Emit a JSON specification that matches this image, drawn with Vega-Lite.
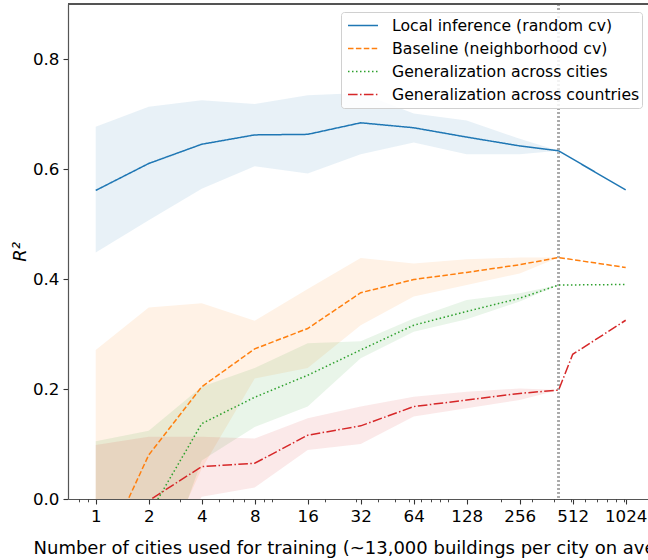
{
  "$schema": "https://vega.github.io/schema/vega-lite/v6.json",
  "width": 580,
  "height": 495,
  "autosize": {"type": "none"},
  "padding": {"left": 68, "top": 4, "right": 0, "bottom": 61},
  "config": {
    "view": {"stroke": null},
    "font": "DejaVu Sans",
    "axis": {
      "grid": false,
      "domainColor": "#555555",
      "domainWidth": 1.2,
      "tickColor": "#333333",
      "tickWidth": 1.1,
      "labelColor": "#000000",
      "labelFontSize": 16.7,
      "labelFont": "DejaVu Sans",
      "titleFont": "DejaVu Sans",
      "titleFontSize": 18,
      "titleFontWeight": "normal",
      "titleColor": "#000000"
    },
    "legend": {
      "labelFont": "DejaVu Sans"
    }
  },
  "data": {
    "values": [
      {"series": "Local inference (random cv)", "n": 1, "v": 0.561, "lo": 0.448, "hi": 0.677},
      {"series": "Local inference (random cv)", "n": 2, "v": 0.610, "lo": 0.507, "hi": 0.713},
      {"series": "Local inference (random cv)", "n": 4, "v": 0.645, "lo": 0.564, "hi": 0.725},
      {"series": "Local inference (random cv)", "n": 8, "v": 0.662, "lo": 0.605, "hi": 0.718},
      {"series": "Local inference (random cv)", "n": 16, "v": 0.663, "lo": 0.592, "hi": 0.734},
      {"series": "Local inference (random cv)", "n": 32, "v": 0.684, "lo": 0.627, "hi": 0.738},
      {"series": "Local inference (random cv)", "n": 64, "v": 0.675, "lo": 0.648, "hi": 0.701},
      {"series": "Local inference (random cv)", "n": 128, "v": 0.658, "lo": 0.627, "hi": 0.688},
      {"series": "Local inference (random cv)", "n": 256, "v": 0.642, "lo": 0.627, "hi": 0.655},
      {"series": "Local inference (random cv)", "n": 426, "v": 0.633, "lo": 0.633, "hi": 0.633},
      {"series": "Local inference (random cv)", "n": 1024, "v": 0.562, "lo": null, "hi": null},
      {"series": "Baseline (neighborhood cv)", "n": 1, "v": -0.128, "lo": -0.35, "hi": 0.271},
      {"series": "Baseline (neighborhood cv)", "n": 2, "v": 0.080, "lo": -0.157, "hi": 0.348},
      {"series": "Baseline (neighborhood cv)", "n": 4, "v": 0.204, "lo": 0.055, "hi": 0.356},
      {"series": "Baseline (neighborhood cv)", "n": 8, "v": 0.273, "lo": 0.219, "hi": 0.324},
      {"series": "Baseline (neighborhood cv)", "n": 16, "v": 0.310, "lo": 0.238, "hi": 0.382},
      {"series": "Baseline (neighborhood cv)", "n": 32, "v": 0.375, "lo": 0.316, "hi": 0.438},
      {"series": "Baseline (neighborhood cv)", "n": 64, "v": 0.399, "lo": 0.368, "hi": 0.428},
      {"series": "Baseline (neighborhood cv)", "n": 128, "v": 0.412, "lo": 0.389, "hi": 0.436},
      {"series": "Baseline (neighborhood cv)", "n": 256, "v": 0.426, "lo": 0.410, "hi": 0.439},
      {"series": "Baseline (neighborhood cv)", "n": 426, "v": 0.439, "lo": 0.439, "hi": 0.439},
      {"series": "Baseline (neighborhood cv)", "n": 1024, "v": 0.421, "lo": null, "hi": null},
      {"series": "Generalization across cities", "n": 1, "v": -0.10, "lo": -0.30, "hi": 0.105},
      {"series": "Generalization across cities", "n": 2, "v": -0.029, "lo": -0.20, "hi": 0.124},
      {"series": "Generalization across cities", "n": 4, "v": 0.137, "lo": 0.07, "hi": 0.204},
      {"series": "Generalization across cities", "n": 8, "v": 0.185, "lo": 0.131, "hi": 0.238},
      {"series": "Generalization across cities", "n": 16, "v": 0.225, "lo": 0.168, "hi": 0.283},
      {"series": "Generalization across cities", "n": 32, "v": 0.271, "lo": 0.256, "hi": 0.287},
      {"series": "Generalization across cities", "n": 64, "v": 0.316, "lo": 0.304, "hi": 0.328},
      {"series": "Generalization across cities", "n": 128, "v": 0.341, "lo": 0.327, "hi": 0.362},
      {"series": "Generalization across cities", "n": 256, "v": 0.365, "lo": 0.359, "hi": 0.374},
      {"series": "Generalization across cities", "n": 426, "v": 0.389, "lo": 0.389, "hi": 0.389},
      {"series": "Generalization across cities", "n": 1024, "v": 0.390, "lo": null, "hi": null},
      {"series": "Generalization across countries", "n": 1, "v": -0.10, "lo": -0.30, "hi": 0.098},
      {"series": "Generalization across countries", "n": 2, "v": -0.003, "lo": -0.15, "hi": 0.113},
      {"series": "Generalization across countries", "n": 4, "v": 0.059, "lo": 0.004, "hi": 0.113},
      {"series": "Generalization across countries", "n": 8, "v": 0.065, "lo": 0.021, "hi": 0.110},
      {"series": "Generalization across countries", "n": 16, "v": 0.116, "lo": 0.089, "hi": 0.147},
      {"series": "Generalization across countries", "n": 32, "v": 0.133, "lo": 0.100, "hi": 0.168},
      {"series": "Generalization across countries", "n": 64, "v": 0.168, "lo": 0.150, "hi": 0.186},
      {"series": "Generalization across countries", "n": 128, "v": 0.180, "lo": 0.165, "hi": 0.195},
      {"series": "Generalization across countries", "n": 256, "v": 0.192, "lo": 0.180, "hi": 0.201},
      {"series": "Generalization across countries", "n": 426, "v": 0.198, "lo": 0.198, "hi": 0.198},
      {"series": "Generalization across countries", "n": 512, "v": 0.263, "lo": null, "hi": null},
      {"series": "Generalization across countries", "n": 1024, "v": 0.325, "lo": null, "hi": null}
    ]
  },
  "layer": [
    {
      "layer": [
        {
          "transform": [{"filter": "isValid(datum.lo)"}],
          "mark": {"type": "area", "clip": true, "fillOpacity": 0.1},
          "encoding": {
            "x": {
              "field": "n",
              "type": "quantitative",
              "scale": {"type": "log", "base": 2, "domain": [0.696, 1371], "nice": false},
              "axis": {
                "values": [1, 2, 4, 8, 16, 32, 64, 128, 256, 512, 1024],
                "format": "d",
                "tickSize": 5,
                "labelPadding": 4,
                "labelFlush": false,
                "labelOverlap": false,
                "title": "Number of cities used for training (~13,000 buildings per city on average)",
                "titlePadding": 15,
                "titleX": 300
              }
            },
            "y": {
              "field": "hi",
              "type": "quantitative",
              "scale": {"domain": [0, 0.9], "nice": false, "zero": false},
              "axis": {
                "values": [0, 0.2, 0.4, 0.6, 0.8],
                "format": ".1f",
                "tickSize": 5,
                "labelPadding": 4,
                "title": "R²",
                "titleFontStyle": "italic",
                "titlePadding": 3
              }
            },
            "y2": {"field": "lo"},
            "color": {
              "field": "series",
              "type": "nominal",
              "scale": {
                "domain": ["Local inference (random cv)", "Baseline (neighborhood cv)", "Generalization across cities", "Generalization across countries"],
                "range": ["#1f77b4", "#ff7f0e", "#2ca02c", "#d62728"]
              }
            }
          }
        },
        {
          "mark": {"type": "rule", "color": "#aaaaaa", "strokeDash": [2, 2], "strokeWidth": 1.5},
          "encoding": {"x": {"datum": 426, "type": "quantitative"}}
        },
        {
          "mark": {"type": "line", "clip": true, "strokeWidth": 1.5},
          "encoding": {
            "x": {"field": "n", "type": "quantitative"},
            "y": {"field": "v", "type": "quantitative"},
            "color": {
              "field": "series",
              "type": "nominal",
              "legend": {
                "title": null,
                "orient": "none",
                "legendX": 273,
                "legendY": 8,
                "fillColor": "rgba(255,255,255,0.85)",
                "strokeColor": "#d0d0d0",
                "cornerRadius": 3,
                "padding": 2,
                "labelFontSize": 15.7,
                "labelColor": "#000000",
                "labelLimit": 320,
                "symbolType": "stroke",
                "symbolSize": 900,
                "symbolStrokeWidth": 1.5,
                "symbolOffset": 4,
                "labelOffset": 13,
                "clipHeight": 23,
                "rowPadding": 0
              }
            },
            "strokeDash": {
              "field": "series",
              "type": "nominal",
              "scale": {
                "domain": ["Local inference (random cv)", "Baseline (neighborhood cv)", "Generalization across cities", "Generalization across countries"],
                "range": [[1, 0], [5.5, 2.4], [1.5, 2.5], [9.6, 2.4, 1.5, 2.4]]
              },
              "legend": {
                "title": null,
                "orient": "none",
                "legendX": 273,
                "legendY": 8,
                "fillColor": "rgba(255,255,255,0.85)",
                "strokeColor": "#d0d0d0",
                "cornerRadius": 3,
                "padding": 2,
                "labelFontSize": 15.7,
                "labelColor": "#000000",
                "labelLimit": 320,
                "symbolType": "stroke",
                "symbolSize": 900,
                "symbolStrokeWidth": 1.5,
                "symbolOffset": 4,
                "labelOffset": 13,
                "clipHeight": 23,
                "rowPadding": 0
              }
            }
          }
        },
        {
          "mark": {"type": "rule", "color": "#555555", "strokeWidth": 1.2},
          "encoding": {"y": {"datum": 0.9, "type": "quantitative"}}
        }
      ]
    },
    {
      "mark": {"type": "point", "opacity": 0},
      "encoding": {
        "x": {
          "field": "n",
          "type": "quantitative",
          "axis": {
            "orient": "bottom",
            "values": [0.8, 0.9, 3, 5, 6, 7, 9, 10, 20, 30, 40, 50, 60, 70, 80, 90, 100, 200, 300, 400, 500, 600, 700, 800, 900, 1000],
            "labels": false,
            "domain": false,
            "ticks": true,
            "tickSize": 2.8,
            "tickWidth": 0.9,
            "title": null
          }
        }
      }
    }
  ],
  "resolve": {"axis": {"x": "independent"}}
}
